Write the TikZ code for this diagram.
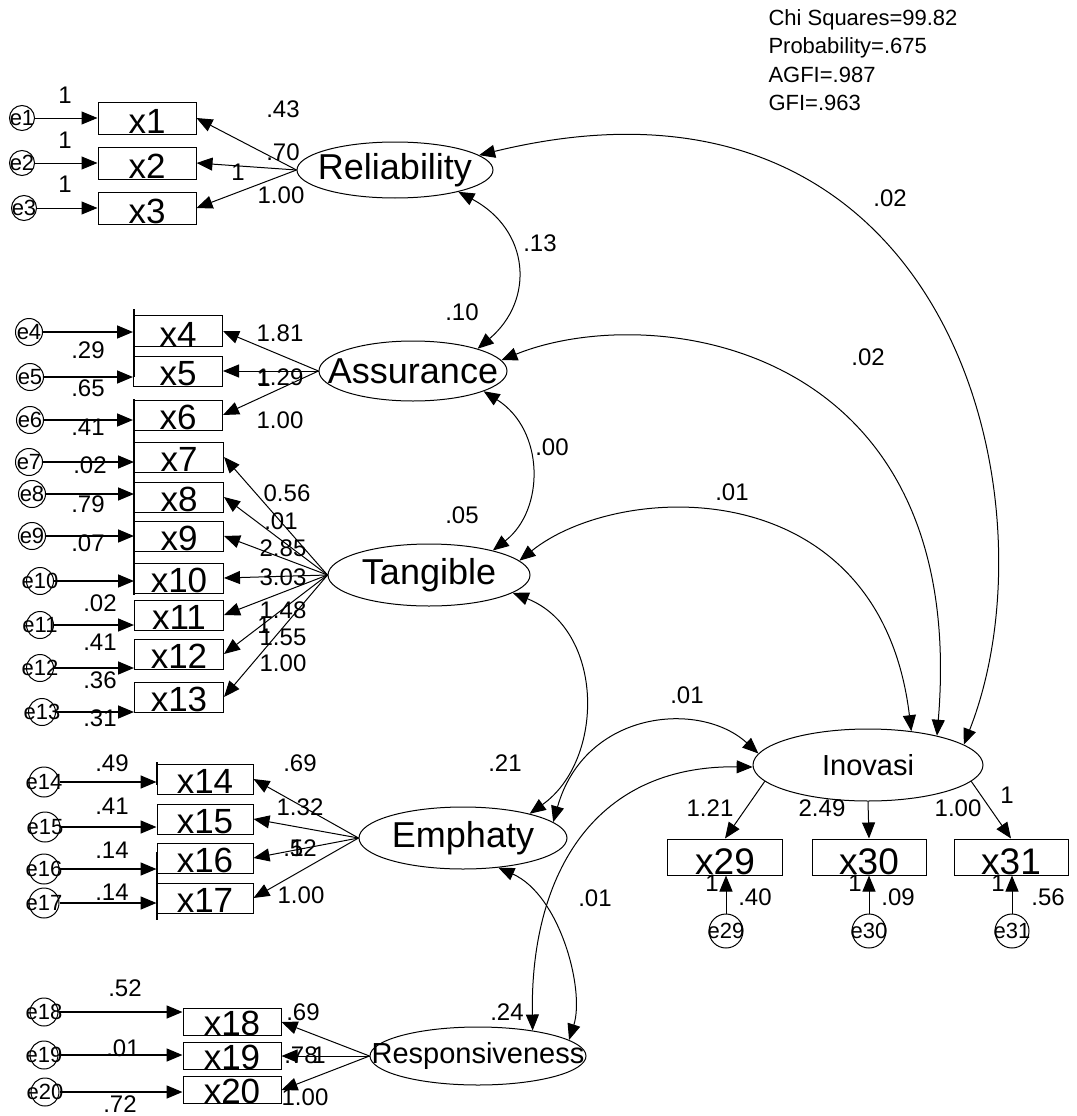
\documentclass[tikz,border=0pt]{standalone}
\usepackage{fontspec}
\setmainfont{Liberation Sans}
\usetikzlibrary{shapes.geometric,arrows.meta}

\begin{document}
\begin{tikzpicture}[x=1pt, y=-1pt, line width=1pt,
		obs/.style={draw, rectangle, inner sep=0pt, minimum width=89pt, minimum height=30pt, text height=29pt, text depth=0pt, font=\fontsize{35}{35}\selectfont},
		lat/.style={draw, ellipse, inner sep=0pt, label={[font=\fontsize{36}{36}\selectfont]center:#1}},
		latsm/.style={draw, ellipse, inner sep=0pt, label={[font=\fontsize{29}{29}\selectfont]center:#1}},
		err/.style={draw, circle, inner sep=0pt, minimum size=27pt, label={[font=\fontsize{22}{22}\selectfont]center:#1}},
		lbl/.style={inner sep=0pt, font=\fontsize{24}{24}\selectfont},
		reg/.style={arrows={-Triangle[length=16pt, width=13pt]}},
		resid/.style={reg, line width=1.6pt},
		cov/.style={arrows={Triangle[length=16pt, width=13pt]-Triangle[length=16pt, width=13pt]}}]
		\fill [white] (0,0) rectangle (1076,1116);
		\useasboundingbox (0,0) rectangle (1076,1116);

		% fit statistics
		\node [lbl, anchor=north west, align=left, font=\fontsize{22}{28.5}\selectfont] (fit) at (768,9) {Chi Squares=99.82\\Probability=.675\\AGFI=.987\\GFI=.963};

		% Reliability
		\node [err=e1, minimum size=25pt] (e1) at (22,118) {};
		\node [err=e2, minimum size=25pt] (e2) at (22,163) {};
		\node [err=e3, minimum size=25pt] (e3) at (24,208) {};
		\node [obs, minimum width=98pt, minimum height=32pt, text height=31pt] (x1) at (147,118) {x1};
		\node [obs, minimum width=98pt, minimum height=32pt, text height=31pt] (x2) at (147,163) {x2};
		\node [obs, minimum width=98pt, minimum height=32pt, text height=31pt] (x3) at (147,208) {x3};
		\node [lat=Reliability, minimum width=196pt, minimum height=56pt] (rel) at (395,170) {};
		\draw [reg] (e1) -- (x1);
		\draw [reg] (e2) -- (x2);
		\draw [reg] (e3) -- (x3);
		\draw [reg] (rel.west) -- (x1.east);
		\draw [reg] (rel.west) -- (x2.east);
		\draw [reg] (rel.west) -- (x3.east);
		\node [lbl] (fe1) at (65,95) {1};
		\node [lbl] (fe2) at (65,140) {1};
		\node [lbl] (fe3) at (65,184) {1};
		\node [lbl] (wx1) at (283,109) {.43};
		\node [lbl] (wx2) at (283,152) {.70};
		\node [lbl] (fx2) at (238,172) {1};
		\node [lbl] (wx3) at (281,195) {1.00};

		% Assurance and Tangible
		\draw [line width=1.6pt] (134,309) -- (134,377);
		\draw [line width=1.6pt] (134,399) -- (134,595);
		\node [obs, minimum height=31pt, text height=30pt] (x4) at (178,331) {x4};
		\node [obs] (x5) at (178,371) {x5};
		\node [obs] (x6) at (178,415) {x6};
		\node [obs] (x7) at (179,457) {x7};
		\node [obs] (x8) at (179,497) {x8};
		\node [obs] (x9) at (179,536) {x9};
		\node [obs] (x10) at (179,578) {x10};
		\node [obs] (x11) at (179,615) {x11};
		\node [obs] (x12) at (179,654) {x12};
		\node [obs] (x13) at (179,697) {x13};
		\node [err=e4] (e4) at (29,332) {};
		\node [err=e5] (e5) at (30,377) {};
		\node [err=e6] (e6) at (30,420) {};
		\node [err=e7] (e7) at (29,462) {};
		\node [err=e8] (e8) at (32,494) {};
		\node [err=e9] (e9) at (32,536) {};
		\node [err=e10] (e10) at (40,581) {};
		\node [err=e11] (e11) at (40,625) {};
		\node [err=e12] (e12) at (40,668) {};
		\node [err=e13] (e13) at (42,712) {};
		\draw [resid] (e4) -- (e4 -| x4.west);
		\draw [resid] (e5) -- (e5 -| x5.west);
		\draw [resid] (e6) -- (e6 -| x6.west);
		\draw [resid] (e7) -- (e7 -| x7.west);
		\draw [resid] (e8) -- (e8 -| x8.west);
		\draw [resid] (e9) -- (e9 -| x9.west);
		\draw [resid] (e10) -- (e10 -| x10.west);
		\draw [resid] (e11) -- (e11 -| x11.west);
		\draw [resid] (e12) -- (e12 -| x12.west);
		\draw [resid] (e13) -- (e13 -| x13.west);
		\node [lbl] (vx4) at (88,350) {.29};
		\node [lbl] (vx5) at (88,388) {.65};
		\node [lbl] (vx6) at (88,427) {.41};
		\node [lbl] (vx7) at (90,465) {.02};
		\node [lbl] (vx8) at (88,504) {.79};
		\node [lbl] (vx9) at (88,543) {.07};
		\node [lbl] (vx10) at (100,603) {.02};
		\node [lbl] (vx11) at (100,642) {.41};
		\node [lbl] (vx12) at (100,680) {.36};
		\node [lbl] (vx13) at (100,718) {.31};

		\node [lat=Assurance, minimum width=188pt, minimum height=60pt] (ass) at (413,371) {};
		\draw [reg] (ass.west) -- (x4.east);
		\draw [reg] (ass.west) -- (x5.east);
		\draw [reg] (ass.west) -- (x6.east);
		\node [lbl] (wx4) at (280,333) {1.81};
		\node [lbl] (wx5) at (280,377) {1.29};
		\node [lbl] (fx5) at (264,378) {1};
		\node [lbl] (wx6) at (280,420) {1.00};

		\node [lat=Tangible, minimum width=202pt, minimum height=62pt] (tan) at (429,575) {};
		\draw [reg] (tan.west) -- (x7.east);
		\draw [reg] (tan.west) -- (x8.east);
		\draw [reg] (tan.west) -- (x9.east);
		\draw [reg] (tan.west) -- (x10.east);
		\draw [reg] (tan.west) -- (x11.east);
		\draw [reg] (tan.west) -- (x12.east);
		\draw [reg] (tan.west) -- (x13.east);
		\node [lbl] (wx7) at (287,493) {0.56};
		\node [lbl] (wx8) at (281,521) {.01};
		\node [lbl] (wx9) at (283,548) {2.85};
		\node [lbl] (wx10) at (283,577) {3.03};
		\node [lbl] (wx11) at (283,610) {1.48};
		\node [lbl] (fx12) at (264,625) {1};
		\node [lbl] (wx12) at (283,637) {1.55};
		\node [lbl] (wx13) at (283,663) {1.00};

		% Emphaty
		\draw [line width=1.6pt] (157,762) -- (157,785);
		\draw [line width=1.6pt] (157,852) -- (157,920);
		\node [obs, minimum width=96pt] (x14) at (205,779) {x14};
		\node [obs, minimum width=96pt] (x15) at (205,819) {x15};
		\node [obs, minimum width=96pt] (x16) at (205,858) {x16};
		\node [obs, minimum width=96pt] (x17) at (205,898) {x17};
		\node [err=e14, minimum size=30pt] (e14) at (44,782) {};
		\node [err=e15, minimum size=30pt] (e15) at (45,827) {};
		\node [err=e16, minimum size=30pt] (e16) at (44,869) {};
		\node [err=e17, minimum size=30pt] (e17) at (44,903) {};
		\draw [resid] (e14) -- (e14 -| x14.west);
		\draw [resid] (e15) -- (e15 -| x15.west);
		\draw [resid] (e16) -- (e16 -| x16.west);
		\draw [resid] (e17) -- (e17 -| x17.west);
		\node [lbl] (vx14) at (112,763) {.49};
		\node [lbl] (vx15) at (112,806) {.41};
		\node [lbl] (vx16) at (112,850) {.14};
		\node [lbl] (vx17) at (112,892) {.14};
		\node [lat=Emphaty, minimum width=208pt, minimum height=62pt] (emp) at (463,838) {};
		\draw [reg] (emp.west) -- (x14.east);
		\draw [reg] (emp.west) -- (x15.east);
		\draw [reg] (emp.west) -- (x16.east);
		\draw [reg] (emp.west) -- (x17.east);
		\node [lbl] (wx14) at (300,763) {.69};
		\node [lbl] (wx15) at (300,807) {1.32};
		\node [lbl] (wx16) at (300,848) {.52};
		\node [lbl] (fx16) at (297,848) {1};
		\node [lbl] (wx17) at (301,895) {1.00};

		% Responsiveness
		\node [obs, minimum width=98pt, minimum height=27pt, text height=26pt] (x18) at (232,1022) {x18};
		\node [obs, minimum width=98pt, minimum height=27pt, text height=26pt] (x19) at (232,1056) {x19};
		\node [obs, minimum width=98pt, minimum height=27pt, text height=26pt] (x20) at (232,1090) {x20};
		\node [err=e18, minimum size=28pt] (e18) at (44,1012) {};
		\node [err=e19, minimum size=28pt] (e19) at (44,1055) {};
		\node [err=e20, minimum size=28pt] (e20) at (45,1092) {};
		\draw [resid] (e18) -- (e18 -| x18.west);
		\draw [resid] (e19) -- (e19 -| x19.west);
		\draw [resid] (e20) -- (e20 -| x20.west);
		\node [lbl] (vx18) at (125,988) {.52};
		\node [lbl] (vx19) at (123,1048) {.01};
		\node [lbl] (vx20) at (120,1104) {.72};
		\node [latsm=Responsiveness, minimum width=216pt, minimum height=58pt] (res) at (478,1056) {};
		\draw [reg] (res.west) -- (x18.east);
		\draw [reg] (res.west) -- (x19.east);
		\draw [reg] (res.west) -- (x20.east);
		\node [lbl] (wx18) at (303,1012) {.69};
		\node [lbl] (wx19) at (301,1055) {.78};
		\node [lbl] (fx19) at (319,1055) {1};
		\node [lbl] (wx20) at (305,1097) {1.00};

		% Inovasi
		\node [latsm=Inovasi, minimum width=230pt, minimum height=72pt] (ino) at (868,765) {};
		\node [obs, minimum width=115pt, minimum height=36pt, text height=35pt, font=\fontsize{37}{37}\selectfont] (x29) at (725,857) {x29};
		\node [obs, minimum width=114pt, minimum height=36pt, text height=35pt, font=\fontsize{37}{37}\selectfont] (x30) at (869,857) {x30};
		\node [obs, minimum width=114pt, minimum height=36pt, text height=35pt, font=\fontsize{37}{37}\selectfont] (x31) at (1011,857) {x31};
		\node [err=e29, minimum size=34pt] (e29) at (726,931) {};
		\node [err=e30, minimum size=34pt] (e30) at (869,931) {};
		\node [err=e31, minimum size=34pt] (e31) at (1012,931) {};
		\draw [reg] (ino.189) -- (x29.north);
		\draw [reg] (ino.south) -- (x30.north);
		\draw [reg] (ino.351) -- (x31.north);
		\draw [reg] (e29) -- (e29 |- x29.south);
		\draw [reg] (e30) -- (e30 |- x30.south);
		\draw [reg] (e31) -- (e31 |- x31.south);
		\node [lbl] (wx29) at (710,808) {1.21};
		\node [lbl] (wx30) at (822,808) {2.49};
		\node [lbl] (wx31) at (958,808) {1.00};
		\node [lbl] (fx31) at (1007,795) {1};
		\node [lbl] (fe29) at (712,883) {1};
		\node [lbl] (fe30) at (855,883) {1};
		\node [lbl] (fe31) at (998,883) {1};
		\node [lbl] (vx29) at (755,897) {.40};
		\node [lbl] (vx30) at (898,897) {.09};
		\node [lbl] (vx31) at (1048,897) {.56};

		% covariances between the factors
		\draw [cov] (rel.341) .. controls (530,230) and (535,300) .. (ass.19);
		\draw [cov] (ass.344) .. controls (545,430) and (545,510) .. (tan.21);
		\draw [cov] (tan.348) .. controls (605,630) and (605,760) .. (emp.20);
		\draw [cov] (emp.10) .. controls (585,710) and (700,700) .. (ino.174);
		\draw [cov] (res.25) .. controls (530,880) and (590,765) .. (ino.181);
		\draw [cov] (emp.320) .. controls (560,895) and (585,990) .. (res.10);
		\draw [cov] (tan.9) .. controls (620,480) and (880,470) .. (ino.38);
		\draw [cov] (ass.7) .. controls (650,300) and (970,340) .. (ino.23);
		\draw [cov] (rel.10) .. controls (950,40) and (1060,500) .. (ino.12);
		\node [lbl] (c1) at (540,243) {.13};
		\node [lbl] (c2) at (462,312) {.10};
		\node [lbl] (c3) at (552,447) {.00};
		\node [lbl] (c4) at (462,515) {.05};
		\node [lbl] (c5) at (505,763) {.21};
		\node [lbl] (c6) at (687,695) {.01};
		\node [lbl] (c7) at (595,898) {.01};
		\node [lbl] (c8) at (507,1012) {.24};
		\node [lbl] (c9) at (732,492) {.01};
		\node [lbl] (c10) at (868,357) {.02};
		\node [lbl] (c11) at (890,198) {.02};
	\end{tikzpicture}
\end{document}
